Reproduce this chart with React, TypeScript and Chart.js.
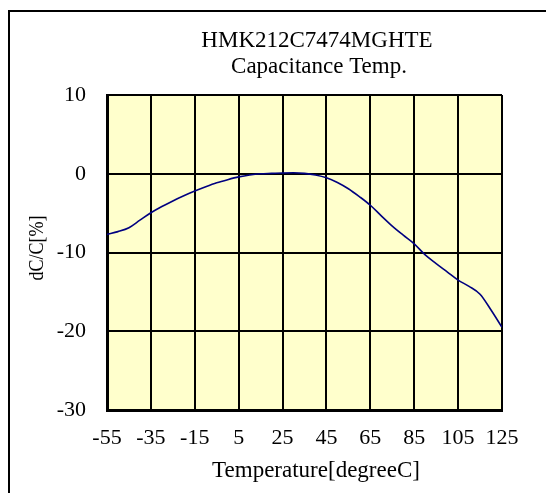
import React, { useEffect, useRef } from 'react';
import { Chart, registerables } from 'chart.js';

Chart.register(...registerables);

const temperatures = [
  -55, -50, -45, -40, -35, -30, -25, -20, -15, -10, -5, 0, 5, 10, 15, 20, 25, 30, 35,
  40, 45, 50, 55, 60, 65, 70, 75, 80, 85, 90, 95, 100, 105, 110, 115, 120, 125,
];
const capChange = [
  -7.7, -7.35, -6.85, -5.9, -4.95, -4.15, -3.45, -2.8, -2.2, -1.65, -1.15, -0.75, -0.4,
  -0.15, 0.0, 0.05, 0.1, 0.12, 0.05, -0.15, -0.5, -1.1, -1.9, -2.9, -4.0, -5.35, -6.65,
  -7.8, -8.9, -10.3, -11.4, -12.45, -13.5, -14.3, -15.3, -17.3, -19.5,
];
const xTickValues = [-55, -35, -15, 5, 25, 45, 65, 85, 105, 125];
const yTickValues = [-30, -20, -10, 0, 10];
const titleLines = ['HMK212C7474MGHTE', 'Capacitance Temp.'];
const xAxisTitle = 'Temperature[degreeC]';
const yAxisTitle = 'dC/C[%]';

const FONT = '"Liberation Serif", "Times New Roman", serif';

export default function App() {
  const ref = useRef<HTMLCanvasElement | null>(null);

  useEffect(() => {
    if (!ref.current) return;

    const plotBg = {
      id: 'plotBg',
      beforeDraw(chart: any) {
        const { ctx, chartArea } = chart;
        const { left, top, right, bottom } = chartArea;
        ctx.save();
        ctx.fillStyle = '#FFFFCC';
        ctx.fillRect(left, top, right - left, bottom - top);
        ctx.restore();
      },
    };

    const texts = {
      id: 'texts',
      afterDraw(chart: any) {
        const { ctx } = chart;
        ctx.save();
        ctx.fillStyle = '#000';
        ctx.font = `23px ${FONT}`;
        ctx.textAlign = 'center';
        ctx.textBaseline = 'alphabetic';
        ctx.fillText(titleLines[0], 317, 47);
        ctx.fillText(titleLines[1], 319, 73);
        ctx.fillText(xAxisTitle, 316, 477);
        ctx.font = `22px ${FONT}`;
        ctx.translate(37, 248);
        ctx.rotate(-Math.PI / 2);
        ctx.scale(0.82, 1);
        ctx.textBaseline = 'middle';
        ctx.fillText(yAxisTitle, 0, 0);
        ctx.restore();
      },
    };

    const chart = new Chart(ref.current, {
      type: 'line',
      data: {
        datasets: [
          {
            data: temperatures.map((t, i) => ({ x: t, y: capChange[i] })),
            borderColor: '#000080',
            borderWidth: 1.6,
            pointRadius: 0,
            tension: 0.4,
            cubicInterpolationMode: 'monotone',
            fill: false,
          },
        ],
      },
      options: {
        responsive: false,
        animation: false,
        devicePixelRatio: 1,
        layout: { padding: { left: 0, top: 95, right: 44, bottom: 0 } },
        plugins: {
          legend: { display: false },
          title: { display: false },
          tooltip: { enabled: false },
        },
        scales: {
          x: {
            type: 'linear',
            min: -55,
            max: 125,
            afterBuildTicks: (s: any) => {
              s.ticks = xTickValues.map((v) => ({ value: v }));
            },
            afterFit: (s: any) => {
              s.height = 83;
            },
            grid: { color: '#000', lineWidth: 2, drawTicks: false },
            border: { display: true, color: '#000', width: 3 },
            ticks: {
              color: '#000',
              padding: 15,
              maxRotation: 0,
              autoSkip: false,
              font: { family: FONT, size: 22 },
            },
          },
          y: {
            type: 'linear',
            min: -30,
            max: 10,
            afterBuildTicks: (s: any) => {
              s.ticks = yTickValues.map((v) => ({ value: v }));
            },
            afterFit: (s: any) => {
              s.width = 107;
            },
            grid: { color: '#000', lineWidth: 2, drawTicks: false },
            border: { display: true, color: '#000', width: 3 },
            ticks: {
              color: '#000',
              padding: 21,
              font: { family: FONT, size: 22 },
            },
          },
        },
      },
      plugins: [plotBg, texts],
    } as any);

    return () => chart.destroy();
  }, []);

  return (
    <div
      style={{
        position: 'fixed',
        left: 0,
        top: 0,
        width: 546,
        height: 493,
        overflow: 'hidden',
        background: '#fff',
      }}
    >
      <div
        style={{
          position: 'absolute',
          left: 8,
          top: 10,
          width: 700,
          height: 700,
          borderLeft: '2px solid #000',
          borderTop: '2px solid #000',
        }}
      />
      <canvas
        ref={ref}
        width={546}
        height={493}
        style={{ position: 'absolute', left: 0, top: 0, width: 546, height: 493 }}
      />
    </div>
  );
}
